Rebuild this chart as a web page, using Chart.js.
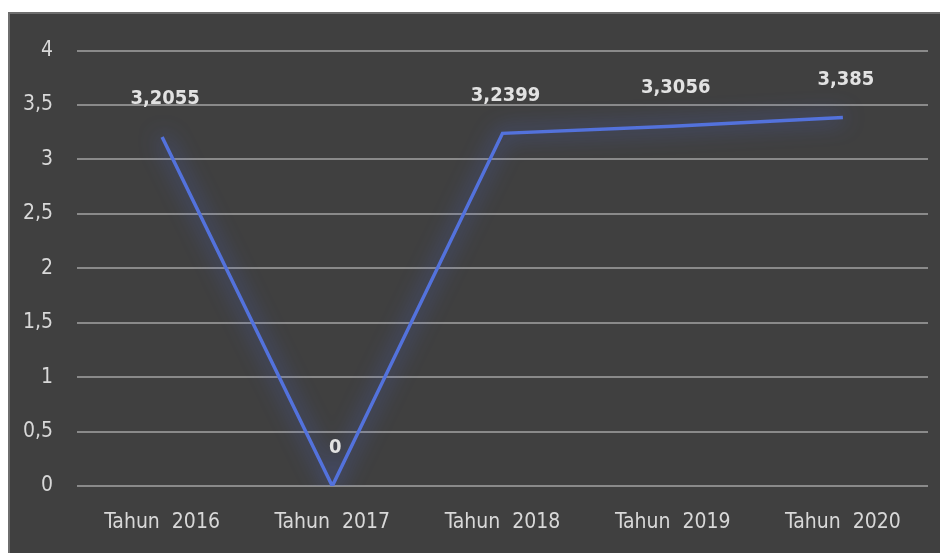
<!DOCTYPE html>
<html>
<head>
    <meta charset="utf-8">
    <title>Tahun 2016 - 2020</title>
    <script src="https://cdn.jsdelivr.net/npm/chart.js"></script>
    <style>
        body {
            margin: 0;
            background: #ffffff;
        }

        #box {
            position: absolute;
            left: 8px;
            top: 12px;
            width: 930px;
            height: 539px;
            background: #404040;
            border-left: 2px solid #6e6e6e;
            border-top: 2px solid #6e6e6e;
        }
    </style>
</head>
<body>
    <div id="box">
        <canvas id="lineChart" width="930" height="539"></canvas>
    </div>

    <script>
        const labels = ['Tahun  2016', 'Tahun  2017', 'Tahun  2018', 'Tahun  2019', 'Tahun  2020'];
        const values = [3.2055, 0, 3.2399, 3.3056, 3.385];
        const valueText = ['3,2055', '0', '3,2399', '3,3056', '3,385'];
        const yTicks = [0, 0.5, 1, 1.5, 2, 2.5, 3, 3.5, 4];

        const fontFamily = '"Liberation Sans Narrow", "DejaVu Sans Condensed", "Liberation Sans", sans-serif';

        // soft blue glow under the line
        const glow = {
            id: 'glow',
            beforeDatasetDraw(chart) {
                const ctx = chart.ctx;
                ctx.save();
                ctx.shadowColor = 'rgba(80, 110, 240, 0.85)';
                ctx.shadowBlur = 22;
            },
            afterDatasetDraw(chart) {
                chart.ctx.restore();
            }
        };

        // value labels above each point
        const valueLabels = {
            id: 'valueLabels',
            afterDatasetsDraw(chart) {
                const ctx = chart.ctx;
                const meta = chart.getDatasetMeta(0);
                ctx.save();
                ctx.font = 'bold 20px ' + fontFamily;
                ctx.fillStyle = '#e2e2e2';
                ctx.textAlign = 'center';
                ctx.textBaseline = 'middle';
                meta.data.forEach((pt, i) => {
                    ctx.fillText(valueText[i], pt.x + 3, pt.y - 38);
                });
                ctx.restore();
            }
        };

        const ctx = document.getElementById('lineChart').getContext('2d');
        new Chart(ctx, {
            type: 'line',
            data: {
                labels: labels,
                datasets: [{
                    data: values,
                    borderColor: '#5372dc',
                    borderWidth: 3.5,
                    pointRadius: 0,
                    tension: 0,
                    fill: false
                }]
            },
            options: {
                responsive: false,
                animation: false,
                layout: {
                    padding: { top: 35, right: 12, left: 0, bottom: 0 }
                },
                plugins: {
                    legend: { display: false },
                    tooltip: { enabled: false }
                },
                scales: {
                    x: {
                        offset: true,
                        grid: { display: false },
                        border: { display: false },
                        ticks: {
                            color: '#d8d8d8',
                            font: { family: fontFamily, size: 21 },
                            padding: 16,
                            maxRotation: 0
                        },
                        afterFit: s => { s.height = 67; }
                    },
                    y: {
                        min: 0,
                        max: 4,
                        afterBuildTicks: s => { s.ticks = yTicks.map(v => ({ value: v })); },
                        grid: { color: '#8a8a8a', lineWidth: 2, drawTicks: false },
                        border: { display: false },
                        ticks: {
                            color: '#d8d8d8',
                            font: { family: fontFamily, size: 21 },
                            padding: 24,
                            callback: v => String(v).replace('.', ',')
                        },
                        afterFit: s => { s.width = 67; }
                    }
                }
            },
            plugins: [glow, valueLabels]
        });
    </script>
</body>
</html>
